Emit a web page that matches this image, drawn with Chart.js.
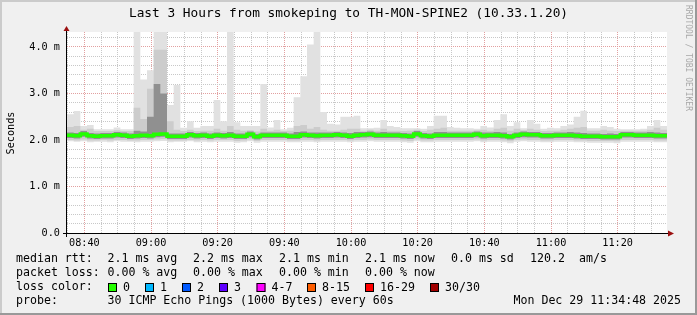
<!DOCTYPE html>
<html>
<head>
<meta charset="utf-8">
<script src="https://cdn.jsdelivr.net/npm/chart.js@4.4.1/dist/chart.umd.min.js"></script>
<style>
  html, body { margin: 0; padding: 0; background: #f0f0f0; }
</style>
</head>
<body>
<canvas id="smokeChart" width="697" height="315"></canvas>
<script>

// time axis: minutes since the left edge of the graph (08:34:48)
const startMinute = 8 * 60 + 34.8
const spanMinutes = 180
const binMinutes = 2

const xTickLabels = ['08:40', '09:00', '09:20', '09:40', '10:00', '10:20', '10:40', '11:00', '11:20']
const yTickLabels = ['0.0', '1.0 m', '2.0 m', '3.0 m', '4.0 m']

// rtt in ms, one value per 2 minute bin
const medianRtt = [
  2.10, 2.09, 2.13, 2.09, 2.08, 2.09, 2.09, 2.11, 2.10, 2.08,
  2.09, 2.10, 2.09, 2.12, 2.13, 2.08, 2.08, 2.08, 2.11, 2.09,
  2.10, 2.08, 2.10, 2.09, 2.10, 2.08, 2.08, 2.12, 2.07, 2.10,
  2.10, 2.10, 2.10, 2.08, 2.08, 2.11, 2.10, 2.09, 2.10, 2.10,
  2.11, 2.10, 2.08, 2.10, 2.11, 2.12, 2.10, 2.10, 2.10, 2.10,
  2.09, 2.08, 2.13, 2.09, 2.08, 2.10, 2.10, 2.10, 2.10, 2.10,
  2.10, 2.12, 2.09, 2.10, 2.10, 2.09, 2.07, 2.10, 2.12, 2.11,
  2.11, 2.09, 2.09, 2.10, 2.10, 2.10, 2.09, 2.08, 2.08, 2.08,
  2.07, 2.07, 2.07, 2.11, 2.11, 2.10, 2.10, 2.10, 2.09, 2.09,
]
const p75Rtt = [
  2.16, 2.15, 2.19, 2.15, 2.14, 2.15, 2.15, 2.17, 2.16, 2.14,
  2.20, 2.18, 2.50, 3.20, 3.00, 2.14, 2.14, 2.14, 2.17, 2.15,
  2.16, 2.14, 2.16, 2.15, 2.17, 2.14, 2.14, 2.18, 2.13, 2.16,
  2.16, 2.16, 2.16, 2.14, 2.17, 2.18, 2.16, 2.16, 2.16, 2.16,
  2.17, 2.16, 2.15, 2.17, 2.17, 2.18, 2.16, 2.17, 2.16, 2.16,
  2.15, 2.14, 2.19, 2.15, 2.14, 2.17, 2.17, 2.16, 2.16, 2.16,
  2.16, 2.18, 2.16, 2.16, 2.17, 2.16, 2.13, 2.16, 2.18, 2.17,
  2.17, 2.15, 2.15, 2.16, 2.16, 2.17, 2.16, 2.15, 2.14, 2.14,
  2.13, 2.14, 2.13, 2.17, 2.17, 2.16, 2.16, 2.17, 2.16, 2.15,
]
const p25Rtt = [
  2.04, 2.03, 2.07, 2.03, 2.02, 2.03, 2.03, 2.05, 2.04, 2.02,
  2.03, 2.04, 2.03, 2.06, 2.07, 2.02, 2.02, 2.02, 2.05, 2.03,
  2.04, 2.02, 2.04, 2.03, 2.04, 2.02, 2.02, 2.06, 2.01, 2.04,
  2.04, 2.04, 2.04, 2.02, 2.02, 2.05, 2.04, 2.03, 2.04, 2.04,
  2.05, 2.04, 2.02, 2.04, 2.05, 2.06, 2.04, 2.04, 2.04, 2.04,
  2.03, 2.02, 2.07, 2.03, 2.02, 2.04, 2.04, 2.04, 2.04, 2.04,
  2.04, 2.06, 2.03, 2.04, 2.04, 2.03, 2.01, 2.04, 2.06, 2.05,
  2.05, 2.03, 2.03, 2.04, 2.04, 2.04, 2.03, 2.02, 2.02, 2.02,
  2.01, 2.01, 2.01, 2.05, 2.05, 2.04, 2.04, 2.04, 2.03, 2.03,
]
const p90Rtt = [
  2.28, 2.30, 2.22, 2.24, 2.19, 2.19, 2.19, 2.21, 2.19, 2.19,
  2.69, 2.45, 3.10, 3.94, 3.94, 2.40, 2.22, 2.19, 2.22, 2.19,
  2.20, 2.20, 2.24, 2.20, 2.30, 2.22, 2.20, 2.21, 2.18, 2.24,
  2.20, 2.22, 2.19, 2.20, 2.30, 2.32, 2.24, 2.28, 2.22, 2.20,
  2.20, 2.22, 2.24, 2.24, 2.20, 2.22, 2.20, 2.24, 2.20, 2.20,
  2.19, 2.20, 2.22, 2.19, 2.22, 2.24, 2.26, 2.20, 2.20, 2.20,
  2.20, 2.21, 2.22, 2.20, 2.24, 2.26, 2.20, 2.24, 2.21, 2.24,
  2.22, 2.19, 2.20, 2.20, 2.22, 2.24, 2.26, 2.28, 2.20, 2.20,
  2.22, 2.20, 2.19, 2.20, 2.20, 2.20, 2.20, 2.22, 2.26, 2.22,
]
const p10Rtt = [
  2.00, 1.99, 2.01, 1.99, 1.99, 2.00, 1.99, 2.00, 2.00, 1.99,
  1.99, 2.00, 2.00, 2.01, 2.02, 1.99, 1.99, 1.99, 2.00, 1.99,
  2.00, 1.99, 2.00, 2.00, 2.00, 1.98, 1.99, 2.01, 1.98, 2.00,
  2.00, 2.00, 2.00, 1.99, 1.99, 2.00, 2.00, 1.99, 2.00, 2.00,
  2.00, 2.00, 1.99, 2.00, 2.00, 2.01, 2.00, 2.00, 2.00, 2.00,
  1.99, 1.98, 2.01, 1.99, 1.99, 2.00, 2.00, 2.00, 2.00, 2.00,
  2.00, 2.01, 1.99, 2.00, 2.00, 1.99, 1.97, 2.00, 2.01, 2.00,
  2.00, 1.99, 1.99, 2.00, 2.00, 2.00, 1.99, 1.99, 1.98, 1.98,
  1.98, 1.98, 1.97, 2.00, 2.00, 2.00, 2.00, 2.00, 1.99, 1.99,
]
const maxRtt = [
  2.55, 2.62, 2.30, 2.32, 2.23, 2.23, 2.23, 2.27, 2.23, 2.23,
  4.90, 3.30, 3.50, 5.60, 4.70, 2.75, 3.18, 2.26, 2.40, 2.26,
  2.30, 2.30, 2.86, 2.40, 4.50, 2.38, 2.30, 2.30, 2.30, 3.20,
  2.27, 2.43, 2.23, 2.26, 2.92, 3.37, 4.05, 4.60, 2.60, 2.35,
  2.33, 2.50, 2.50, 2.52, 2.25, 2.25, 2.26, 2.43, 2.30, 2.28,
  2.25, 2.25, 2.25, 2.24, 2.30, 2.52, 2.52, 2.28, 2.26, 2.25,
  2.25, 2.24, 2.30, 2.27, 2.43, 2.55, 2.30, 2.38, 2.25, 2.43,
  2.35, 2.24, 2.26, 2.25, 2.30, 2.33, 2.50, 2.63, 2.25, 2.25,
  2.30, 2.28, 2.24, 2.23, 2.23, 2.23, 2.24, 2.30, 2.43, 2.30,
]
const minRtt = [
  1.97, 1.96, 1.97, 1.95, 1.96, 1.96, 1.95, 1.97, 1.96, 1.96,
  1.95, 1.96, 1.96, 1.97, 1.98, 1.95, 1.96, 1.96, 1.97, 1.95,
  1.96, 1.95, 1.96, 1.96, 1.96, 1.94, 1.95, 1.97, 1.94, 1.96,
  1.96, 1.96, 1.96, 1.95, 1.95, 1.96, 1.96, 1.95, 1.96, 1.96,
  1.96, 1.96, 1.95, 1.96, 1.96, 1.97, 1.96, 1.96, 1.96, 1.96,
  1.95, 1.94, 1.97, 1.95, 1.95, 1.96, 1.96, 1.96, 1.96, 1.96,
  1.96, 1.97, 1.95, 1.96, 1.96, 1.95, 1.93, 1.96, 1.97, 1.96,
  1.96, 1.95, 1.95, 1.96, 1.96, 1.96, 1.95, 1.95, 1.94, 1.94,
  1.94, 1.94, 1.93, 1.96, 1.96, 1.96, 1.96, 1.96, 1.95, 1.95,
]

const titleText = 'Last 3 Hours from smokeping to TH-MON-SPINE2 (10.33.1.20)'
const medianStats = ['2.1 ms avg', '2.2 ms max', '2.1 ms min', '2.1 ms now', '0.0 ms sd', '120.2', 'am/s']
const lossStats = ['0.00 % avg', '0.00 % max', '0.00 % min', '0.00 % now']
const lossLabels = ['0', '1', '2', '3', '4-7', '8-15', '16-29', '30/30']
const probeText = '30 ICMP Echo Pings (1000 Bytes) every 60s'
const dateText = 'Mon Dec 29 11:34:48 2025'


const mono = '"DejaVu Sans Mono", "Liberation Mono", monospace'
const minorGrid = '#c8c8c8'
const majorGrid = '#e2a0a0'

const clock = (m) => {
    const t = Math.round(startMinute + m)
    return String(Math.floor(t / 60)).padStart(2, '0') + ':' + String(t % 60).padStart(2, '0')
}
const isWhole = (v) => Math.abs(v - Math.round(v)) < 1e-6

// stepped line needs a closing point at the right edge
const toSteps = (values) => {
    const pts = values.map((v, i) => ({x: i * binMinutes, y: v}))
    pts.push({x: spanMinutes, y: values[values.length - 1]})
    return pts
}

const band = (values, color, fillTarget) => ({
    data: toSteps(values),
    stepped: true,
    borderWidth: 0,
    borderColor: 'rgba(0,0,0,0)',
    backgroundColor: color || 'rgba(0,0,0,0)',
    pointRadius: 0,
    fill: fillTarget === undefined ? false : fillTarget,
})

const frame = {
    id: 'frame',
    beforeDraw(chart) {
        const {ctx, chartArea: a} = chart
        ctx.save()
        ctx.fillStyle = '#f0f0f0'
        ctx.fillRect(0, 0, chart.width, chart.height)
        ctx.fillStyle = '#cbcbcb'
        ctx.fillRect(0, 0, chart.width, 2)
        ctx.fillRect(0, 0, 2, chart.height)
        ctx.fillStyle = '#999999'
        ctx.fillRect(0, chart.height - 2, chart.width, 2)
        ctx.fillRect(chart.width - 2, 0, 2, chart.height)
        ctx.fillStyle = '#ffffff'
        ctx.fillRect(a.left, a.top, a.right - a.left, a.bottom - a.top)
        ctx.restore()
    },
    afterDraw(chart) {
        const {ctx, chartArea: a} = chart
        ctx.save()

        // axes and arrows
        ctx.strokeStyle = '#000'
        ctx.lineWidth = 1
        ctx.beginPath()
        ctx.moveTo(a.left - 4, a.bottom + 0.5)
        ctx.lineTo(a.right + 2, a.bottom + 0.5)
        ctx.moveTo(a.left - 0.5, a.bottom + 4)
        ctx.lineTo(a.left - 0.5, a.top - 2)
        ctx.stroke()
        ctx.fillStyle = '#9b1010'
        ctx.beginPath()
        ctx.moveTo(a.left - 3.5, a.top - 1)
        ctx.lineTo(a.left + 2.5, a.top - 1)
        ctx.lineTo(a.left - 0.5, a.top - 6)
        ctx.closePath()
        ctx.fill()
        ctx.beginPath()
        ctx.moveTo(a.right + 1, a.bottom - 2.5)
        ctx.lineTo(a.right + 1, a.bottom + 3.5)
        ctx.lineTo(a.right + 7, a.bottom + 0.5)
        ctx.closePath()
        ctx.fill()

        // title
        ctx.fillStyle = '#000'
        ctx.font = '12.8px ' + mono
        ctx.textAlign = 'center'
        ctx.textBaseline = 'middle'
        ctx.fillText(titleText, chart.width / 2, 14)

        // vertical label
        ctx.save()
        ctx.translate(11, 133)
        ctx.rotate(-Math.PI / 2)
        ctx.font = '10.2px ' + mono
        ctx.fillText('Seconds', 0, 0)
        ctx.restore()

        // watermark
        ctx.save()
        ctx.translate(688, 5)
        ctx.rotate(Math.PI / 2)
        ctx.textAlign = 'left'
        ctx.fillStyle = '#a8a8a8'
        ctx.font = '8px ' + mono
        ctx.fillText('RRDTOOL / TOBI OETIKER', 0, 0)
        ctx.restore()

        // legend block
        ctx.font = '11.6px ' + mono
        ctx.textAlign = 'left'
        ctx.fillStyle = '#000'
        const cols = [107.5, 193, 279, 365, 451, 530, 579]
        ctx.fillText('median rtt:', 16, 259)
        medianStats.forEach((s, i) => ctx.fillText(s, cols[i], 259))
        ctx.fillText('packet loss:', 16, 273)
        lossStats.forEach((s, i) => ctx.fillText(s, cols[i], 273))
        ctx.fillText('loss color:', 16, 287)
        const boxX = [108, 145, 182, 219, 256.5, 307, 365, 430]
        const boxColors = ['#26ff00', '#00b8ff', '#0059ff', '#5e00ff', '#ff00ff', '#ff5e00', '#ff0000', '#a10000']
        lossLabels.forEach((s, i) => {
            ctx.fillStyle = boxColors[i]
            ctx.fillRect(boxX[i], 283, 9, 9)
            ctx.strokeStyle = '#000'
            ctx.strokeRect(boxX[i] + 0.5, 283.5, 8, 8)
            ctx.fillStyle = '#000'
            ctx.fillText(s, boxX[i] + 15, 287.5)
        })
        ctx.fillText('probe:', 16, 301)
        ctx.fillText(probeText, 107.5, 301)
        ctx.textAlign = 'right'
        ctx.fillText(dateText, 681, 301)

        ctx.restore()
    }
}

const smokeCtx = document.getElementById('smokeChart')
const smokeChart = new Chart(smokeCtx, {
    type: 'line',
    data: {
        datasets: [
            {
                label: 'median rtt',
                data: toSteps(medianRtt),
                stepped: true,
                borderColor: '#22ff00',
                borderWidth: 3.5,
                pointRadius: 0,
                fill: false,
            },
            band(p75Rtt, '#909090', 2),
            band(p25Rtt),
            band(p90Rtt, '#cccccc', 4),
            band(p10Rtt),
            band(maxRtt, '#e1e1e1', 6),
            band(minRtt),
        ]
    },
    options: {
        responsive: false,
        devicePixelRatio: 1,
        animation: false,
        events: [],
        layout: {padding: {left: 0, right: 30, top: 32, bottom: 0}},
        plugins: {legend: {display: false}, tooltip: {enabled: false}},
        scales: {
            x: {
                type: 'linear',
                min: 0,
                max: spanMinutes,
                afterBuildTicks: (axis) => {
                    const ticks = []
                    for (let m = 5 - (startMinute % 5); m < spanMinutes; m += 5) ticks.push({value: m})
                    axis.ticks = ticks
                },
                afterFit: (axis) => { axis.height = 82 },
                grid: {
                    color: (c) => xTickLabels.includes(clock(c.tick.value)) ? majorGrid : minorGrid,
                    lineWidth: 1,
                    drawTicks: false,
                },
                border: {display: false, dash: [1, 1]},
                ticks: {
                    autoSkip: false,
                    maxRotation: 0,
                    padding: 4,
                    color: '#000',
                    font: {family: mono, size: 10.2},
                    callback: (v) => {
                        const s = clock(v)
                        return xTickLabels.includes(s) ? s : ''
                    }
                }
            },
            y: {
                min: 0,
                max: 4.32,
                afterBuildTicks: (axis) => {
                    const ticks = []
                    for (let k = 0; k <= 21; k++) ticks.push({value: k / 5})
                    axis.ticks = ticks
                },
                afterFit: (axis) => { axis.width = 67 },
                grid: {
                    color: (c) => isWhole(c.tick.value) ? majorGrid : minorGrid,
                    lineWidth: 1,
                    drawTicks: false,
                },
                border: {display: false, dash: [1, 1]},
                ticks: {
                    autoSkip: false,
                    padding: 7,
                    color: '#000',
                    font: {family: mono, size: 10.2},
                    callback: (v) => isWhole(v) ? yTickLabels[Math.round(v)] : ''
                }
            }
        }
    },
    plugins: [frame]
})
</script>
</body>
</html>
